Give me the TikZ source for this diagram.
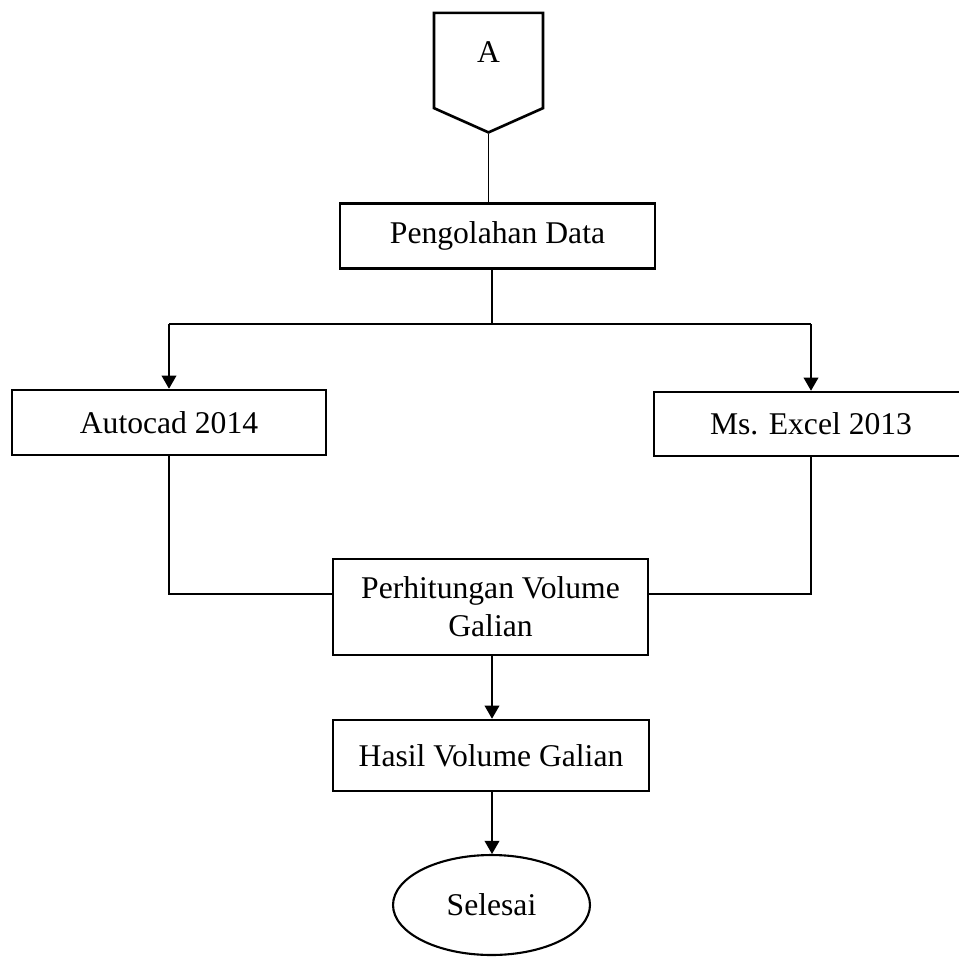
\documentclass[tikz,border=0pt]{standalone}
\usepackage{fontspec}
\setmainfont{Liberation Serif}
\usetikzlibrary{shapes.geometric, shapes.symbols, arrows.meta, positioning}

\begin{document}
\begin{tikzpicture}[
    x=0.02cm, y=-0.02cm,
    box/.style={rectangle, draw=black, line width=1.5pt, fill=white,
                minimum width=6.3cm, minimum height=1.3cm, align=center,
                font=\fontsize{18}{21.6}\selectfont},
    offpage/.style={signal, signal to=south, signal pointer angle=132,
                    draw=black, line width=1.5pt, minimum width=2.18cm,
                    minimum height=2.06cm, font=\fontsize{18}{21.6}\selectfont},
    terminal/.style={ellipse, draw=black, line width=1.2pt,
                     minimum width=3.94cm, minimum height=2cm,
                     font=\fontsize{18}{21.6}\selectfont},
    line/.style={line width=0.6pt},
    arrow/.style={-{Triangle[length=7.5pt, width=8.5pt]}, line width=0.6pt}
]
    \useasboundingbox (0,0) rectangle (959,956);

    % Connector
    \node[offpage, text height=0.5cm, text depth=0.4cm] (A) at (488.5,60.5) {A};

    % Process boxes
    \node[box] (olah) at (497.5,236) {Pengolahan Data};
    \node[box, minimum width=6.28cm] (cad) at (169,422.5) {Autocad 2014};
    \node[box, minimum width=6.28cm, minimum height=1.28cm] (excel) at (811,424) {Ms. Excel 2013};
    \node[box, minimum height=1.92cm] (hitung) at (490.5,607) {Perhitungan Volume\\Galian};
    \node[box, minimum width=6.32cm, minimum height=1.42cm] (hasil) at (491,755.5) {Hasil Volume Galian};

    % End
    \node[terminal] (end) at (491.5,905) {Selesai};

    % Lines
    \coordinate (split) at (492,324);
    \coordinate (join) at (492,594);
    \draw[line] (A.south) -- (A.south |- olah.north);
    \draw[line] (olah.south -| split) -- (split);
    \draw[line] (cad.north |- split) -- (excel.north |- split);
    \draw[arrow] (cad.north |- split) -- (cad.north);
    \draw[arrow] (excel.north |- split) -- (excel.north);

    \draw[line] (cad.south) |- (hitung.west |- join);
    \draw[line] (excel.south) |- (hitung.east |- join);

    \draw[arrow] (hitung.south -| split) -- (hasil.north -| split);
    \draw[arrow] (hasil.south -| split) -- (end.north -| split);
\end{tikzpicture}
\end{document}
